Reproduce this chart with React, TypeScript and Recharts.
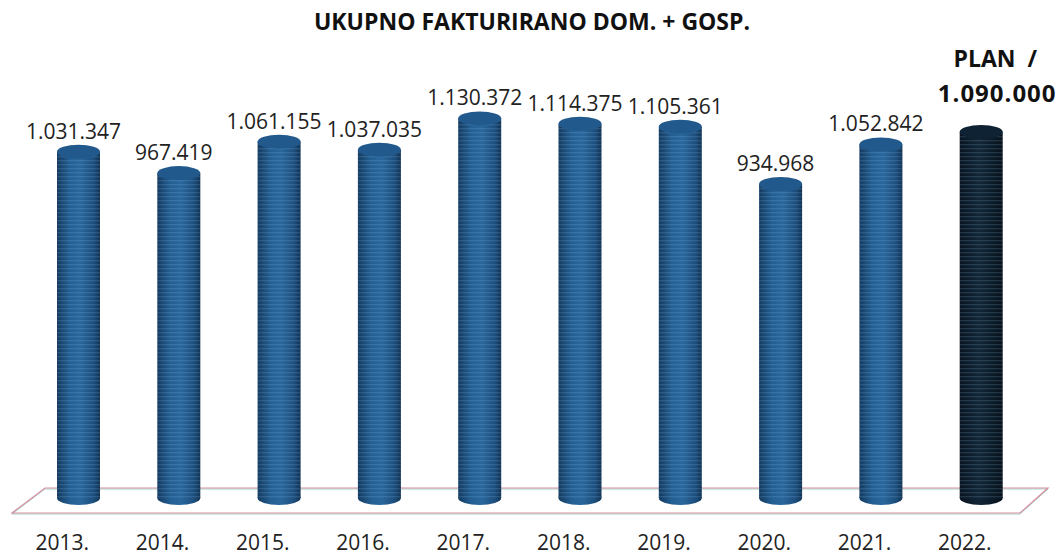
import { BarChart, Bar, XAxis, YAxis, Cell, LabelList, ReferenceArea } from 'recharts';

const years = ['2013.', '2014.', '2015.', '2016.', '2017.', '2018.', '2019.', '2020.', '2021.', '2022.'];
const totals = [1031347, 967419, 1061155, 1037035, 1130372, 1114375, 1105361, 934968, 1052842, 1090000];
const planIndex = 9;
const planText = 'PLAN\u00a0\u00a0/';
const title = 'UKUPNO FAKTURIRANO DOM. + GOSP.';

const data = years.map((year, i) => ({ year, value: totals[i] }));

const fmt = (v: number) => String(v).replace(/\B(?=(\d{3})+(?!\d))/g, '.');

const FONT = '"Open Sans", sans-serif';

const Cylinder = (props: any) => {
  const { x, y, width, height, index } = props;
  const rx = width / 2;
  const ry = 7;
  const plan = index === planIndex;
  const body = plan ? 'url(#cylDark)' : 'url(#cylBlue)';
  const cap = plan ? '#0f2234' : '#22598c';
  return (
    <g>
      <ellipse cx={x + rx} cy={y + height} rx={rx} ry={ry} fill={body} />
      <rect x={x} y={y} width={width} height={height} fill={body} />
      <rect x={x} y={y} width={width} height={height} fill="url(#stripes)" />
      <ellipse cx={x + rx} cy={y} rx={rx} ry={ry} fill={cap} />
    </g>
  );
};

const Floor = (props: any) => {
  const { x, y, width, height } = props;
  const base = y + height;
  const top = base - 10;
  const bottom = base + 15;
  const pts = `${x + 17},${top} ${x + width + 17},${top} ${x + width - 11},${bottom} ${x - 16},${bottom}`;
  return (
    <g>
      <polygon points={pts} fill="#ffffff" stroke="#9fd0c8" strokeWidth={1} transform="translate(0,1)" />
      <polygon points={pts} fill="none" stroke="#d98f9e" strokeWidth={1.2} />
    </g>
  );
};

const ValueLabel = (props: any) => {
  const { x, y, width, value, index } = props;
  const cx = x + width / 2;
  if (index === planIndex) {
    return (
      <g fontFamily={FONT} fontWeight={700} fill="#111" textAnchor="middle">
        <text x={cx + 14} y={y - 65} fontSize={23}>{planText}</text>
        <text x={cx + 16} y={y - 30} fontSize={24} letterSpacing={1}>{fmt(value)}</text>
      </g>
    );
  }
  return (
    <text x={cx - 5} y={y - 13} fontFamily={FONT} fontSize={21} fill="#222" textAnchor="middle">
      {fmt(value)}
    </text>
  );
};

const YearTick = (props: any) => {
  const { x, y, payload } = props;
  return (
    <text x={x - 16} y={y + 52} fontFamily={FONT} fontSize={21} fill="#222" textAnchor="middle">
      {payload.value}
    </text>
  );
};

export default function App() {
  return (
    <div style={{ position: 'absolute', left: 0, top: 0, width: 1060, height: 556, background: '#fff' }}>
      <BarChart width={1060} height={556} data={data} margin={{ top: 95, right: 29, bottom: 28, left: 28 }}>
        <defs>
          <linearGradient id="cylBlue" x1="0" y1="0" x2="1" y2="0">
            <stop offset="0%" stopColor="#143a5f" />
            <stop offset="30%" stopColor="#245f93" />
            <stop offset="55%" stopColor="#2a679c" />
            <stop offset="85%" stopColor="#1d4f7e" />
            <stop offset="100%" stopColor="#123353" />
          </linearGradient>
          <linearGradient id="cylDark" x1="0" y1="0" x2="1" y2="0">
            <stop offset="0%" stopColor="#08131f" />
            <stop offset="45%" stopColor="#132738" />
            <stop offset="100%" stopColor="#07111b" />
          </linearGradient>
          <pattern id="stripes" width="6" height="4" patternUnits="userSpaceOnUse">
            <rect x="0" y="0" width="6" height="1.3" fill="rgba(140,190,230,0.18)" />
          </pattern>
        </defs>
        <YAxis hide domain={[0, 1200000]} />
        <XAxis dataKey="year" height={30} axisLine={false} tickLine={false} tickSize={0} tickMargin={0} interval={0} tick={<YearTick />} />
        <ReferenceArea y1={0} y2={30000} shape={<Floor />} ifOverflow="visible" />
        <Bar dataKey="value" barSize={43} shape={<Cylinder />} isAnimationActive={false}>
          {data.map((d, i) => (
            <Cell key={d.year} fill={i === planIndex ? '#0f2234' : '#22598c'} />
          ))}
          <LabelList dataKey="value" content={<ValueLabel />} />
        </Bar>
      </BarChart>
      <svg width={1060} height={556} style={{ position: 'absolute', left: 0, top: 0, pointerEvents: 'none' }}>
        <text x={532} y={30} textAnchor="middle" fontFamily={FONT} fontWeight={700} fontSize={23} fill="#111">
          {title}
        </text>
      </svg>
    </div>
  );
}
